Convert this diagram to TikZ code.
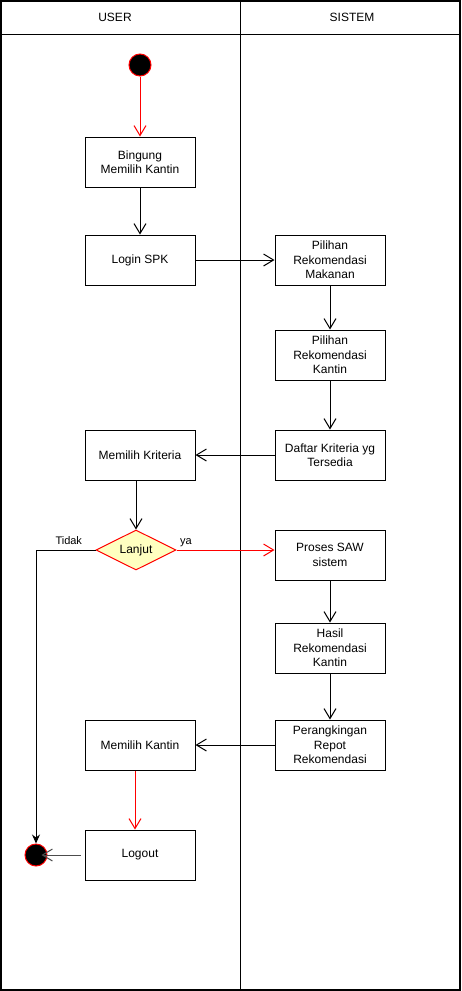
\documentclass[tikz,border=0pt]{standalone}
\usepackage{fontspec}
\setmainfont{Liberation Sans}
\usetikzlibrary{arrows.meta,shapes.geometric}
\definecolor{notered}{HTML}{FF0000}
\definecolor{noteyellow}{HTML}{FFFFC0}

\begin{document}
\begin{tikzpicture}[x=1pt,y=-1pt,line width=1pt,
  font=\fontsize{12}{14.5}\selectfont,
  >={Straight Barb[length=10pt,width=12pt]},
  act/.style={draw,fill=white,minimum width=110pt,minimum height=50pt,align=center,inner sep=2pt},
  dot/.style={circle,draw=notered,fill=black,minimum size=22pt,inner sep=0pt},
  choice/.style={diamond,aspect=2,draw=notered,fill=noteyellow,minimum width=80pt,minimum height=40pt,inner sep=0pt},
  guard/.style={text=black,font=\fontsize{11}{13}\selectfont}]
  \useasboundingbox (0,0) rectangle (461,991);
  % swimlanes
  \draw[line width=1.4pt] (1,1) rectangle (460,990);
  \draw (1,34)--(460,34) (240,1)--(240,990);
  \node (laneuser) at (115,17){USER};
  \node (lanesistem) at (352,17){SISTEM};
  % user lane
  \node[dot] (start) at (140,65){};
  \node[act] (bingung) at (140,162){Bingung\\Memilih Kantin};
  \node[act] (login) at (140,260){Login SPK};
  \node[act] (kriteria) at (140,455){Memilih Kriteria};
  \node[choice] (lanjut) at (136,550){Lanjut};
  \node[act] (pilihkantin) at (140,745){Memilih Kantin};
  \node[act] (logout) at (140,855){Logout};
  \node[dot] (finish) at (36,855){};
  % sistem lane
  \node[act] (makanan) at (330,260){Pilihan\\Rekomendasi\\Makanan};
  \node[act] (kantin) at (330,355){Pilihan\\Rekomendasi\\Kantin};
  \node[act] (daftar) at (330,455){Daftar Kriteria yg\\Tersedia};
  \node[act] (saw) at (330,555){Proses SAW\\sistem};
  \node[act] (hasil) at (330,648){Hasil\\Rekomendasi\\Kantin};
  \node[act] (ranking) at (330,745){Perangkingan\\Repot\\Rekomendasi};
  % flows
  \draw[->,notered] (start)--(bingung);
  \draw[->] (bingung)--(login);
  \draw[->] (login)--(makanan);
  \draw[->] (makanan)--(kantin);
  \draw[->] (kantin)--(daftar);
  \draw[->] (daftar)--(kriteria);
  \draw[->] (kriteria.south-|lanjut)--(lanjut);
  \draw[->,notered] (lanjut.east)--(lanjut.east-|saw.west) node[pos=0,above right,guard,inner sep=3pt]{ya};
  \draw[-{Stealth[length=9pt,width=8pt]}] (lanjut.west)-|(finish.north)
    node[pos=0,above left,guard,inner sep=5pt,xshift=-8pt]{Tidak};
  \draw[->] (saw)--(hasil);
  \draw[->] (hasil)--(ranking);
  \draw[->] (ranking)--(pilihkantin);
  \draw[->,notered] ([xshift=-5pt]pilihkantin.south)--([xshift=-5pt]logout.north);
  \draw[->,black!70] ([xshift=-4pt]logout.west)--([xshift=-6pt]finish.east);
\end{tikzpicture}
\end{document}
